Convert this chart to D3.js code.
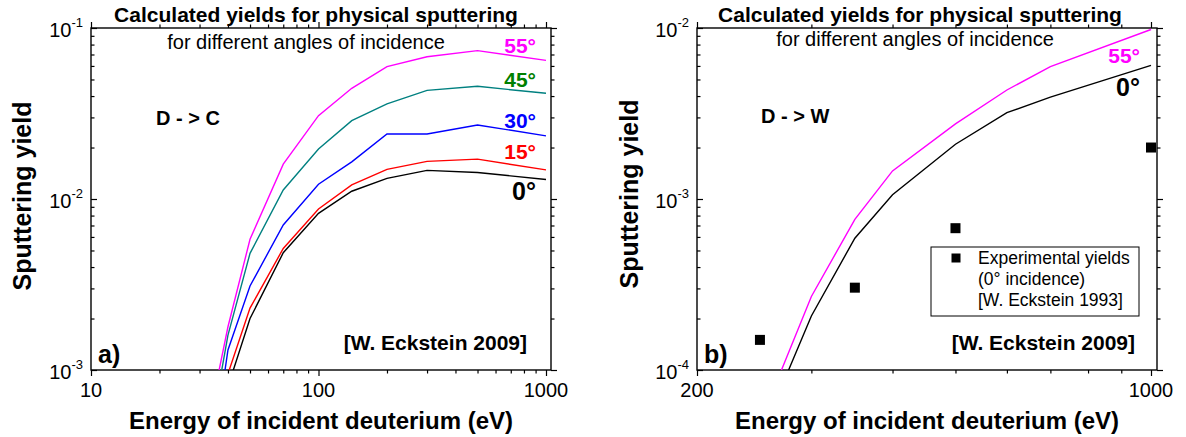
<!DOCTYPE html>
<html><head><meta charset="utf-8">
<script src="https://cdn.jsdelivr.net/npm/d3@7"></script>
<style>
body{margin:0;background:#fff}
svg{display:block;font-family:"Liberation Sans",Arial,Helvetica,sans-serif}
</style></head><body>
<svg id="chart" width="1186" height="437"></svg>
<script>
// ---- D -> C : calculated yields, one series per angle of incidence ----
const energiesC = [35, 40, 50, 70, 100, 140, 200, 300, 500, 1000];
const yieldC0  = [0.00020, 0.00080, 0.00200, 0.00485, 0.00824, 0.0111, 0.0132, 0.0147, 0.0143, 0.0130];
const yieldC15 = [0.00030, 0.00095, 0.00230, 0.00514, 0.00875, 0.0121, 0.0149, 0.0166, 0.0171, 0.0148];
const yieldC30 = [0.00039, 0.00131, 0.00310, 0.00705, 0.0122, 0.0165, 0.0240, 0.0240, 0.0271, 0.0234];
const yieldC45 = [0.00059, 0.00160, 0.00481, 0.0113, 0.0196, 0.0287, 0.0360, 0.0432, 0.0456, 0.0415];
const yieldC55 = [0.00075, 0.00179, 0.00581, 0.0160, 0.0307, 0.0444, 0.0594, 0.0679, 0.0737, 0.0647];
const anglesC  = ["0°", "15°", "30°", "45°", "55°"];

// ---- D -> W : calculated yields (0° and 55°) and measured yields at 0° ----
const energiesW = [250, 300, 350, 400, 500, 600, 700, 1000];
const yieldW0  = [0.000040, 0.000207, 0.00059, 0.00106, 0.00209, 0.00320, 0.00394, 0.00605];
const yieldW55 = [0.000049, 0.000269, 0.00076, 0.00146, 0.00275, 0.00434, 0.00594, 0.00980];
const anglesW  = ["0°", "55°"];
const expEnergiesW = [250, 350, 500, 1000];
const expYieldsW   = [0.000150, 0.000303, 0.000675, 0.00200];

// ---- axis ticks ----
const xMajorC = [10, 100, 1000];
const yMajorC = [1e-3, 1e-2, 1e-1];
const xMajorW = [200, 1000];
const yMajorW = [1e-4, 1e-3, 1e-2];

const svg = d3.select("#chart");
const FONT_BOLD = 700;

function minorLogTicks(lo, hi, majors) {
  const out = [];
  for (let p = Math.floor(Math.log10(lo)); p <= Math.ceil(Math.log10(hi)); p++) {
    for (let m = 1; m <= 9; m++) {
      const v = m * Math.pow(10, p);
      if (v >= lo * 0.9999 && v <= hi * 1.0001 && !majors.some(t => Math.abs(t - v) / v < 1e-6)) out.push(v);
    }
  }
  return out;
}

function panel(cfg) {
  const g = svg.append("g");
  const x = d3.scaleLog().domain(cfg.xDomain).range([cfg.left, cfg.xEnd]);
  const y = d3.scaleLog().domain(cfg.yDomain).range([cfg.bottom, cfg.top]);
  const right = cfg.right;

  const clipId = "clip-" + cfg.id;
  svg.append("clipPath").attr("id", clipId).append("rect")
    .attr("x", cfg.left).attr("y", cfg.top)
    .attr("width", right - cfg.left).attr("height", cfg.bottom - cfg.top);

  const xMinor = minorLogTicks(cfg.xDomain[0], cfg.xDomain[1], cfg.xMajor);
  const yMinor = minorLogTicks(cfg.yDomain[0], cfg.yDomain[1], cfg.yMajor);

  const tickStyle = sel => {
    sel.select(".domain").remove();
    sel.selectAll("line").attr("stroke", "#000").attr("stroke-width", 1.2);
    sel.selectAll("text").remove();
  };
  // bottom & top axes
  g.append("g").attr("transform", `translate(0,${cfg.bottom})`)
    .call(d3.axisBottom(x).tickValues(cfg.xMajor).tickSize(6)).call(tickStyle);
  g.append("g").attr("transform", `translate(0,${cfg.bottom})`)
    .call(d3.axisBottom(x).tickValues(xMinor).tickSize(3.5)).call(tickStyle);
  g.append("g").attr("transform", `translate(0,${cfg.top})`)
    .call(d3.axisTop(x).tickValues(cfg.xMajor).tickSize(6)).call(tickStyle);
  g.append("g").attr("transform", `translate(0,${cfg.top})`)
    .call(d3.axisTop(x).tickValues(xMinor).tickSize(3.5)).call(tickStyle);
  // left (inward) & right axes
  g.append("g").attr("transform", `translate(${cfg.left},0)`)
    .call(d3.axisLeft(y).tickValues(cfg.yMajor).tickSize(-6)).call(tickStyle);
  g.append("g").attr("transform", `translate(${cfg.left},0)`)
    .call(d3.axisLeft(y).tickValues(yMinor).tickSize(-3.5)).call(tickStyle);
  g.append("g").attr("transform", `translate(${right},0)`)
    .call(d3.axisRight(y).tickValues(cfg.yMajor).tickSize(6)).call(tickStyle);
  g.append("g").attr("transform", `translate(${right},0)`)
    .call(d3.axisRight(y).tickValues(yMinor).tickSize(3.5)).call(tickStyle);

  // frame
  g.append("rect").attr("x", cfg.left).attr("y", cfg.top)
    .attr("width", right - cfg.left).attr("height", cfg.bottom - cfg.top)
    .attr("fill", "none").attr("stroke", "#000").attr("stroke-width", 1.4);

  // x tick labels
  g.selectAll(".xl").data(cfg.xMajor).enter().append("text")
    .attr("x", d => x(d)).attr("y", cfg.bottom + 27)
    .attr("text-anchor", "middle").attr("font-size", 20).text(d => d);

  // y tick labels 10^n
  const yl = g.selectAll(".yl").data(cfg.yMajor).enter().append("text")
    .attr("x", cfg.left - 8).attr("y", d => y(d) + 9)
    .attr("text-anchor", "end").attr("font-size", 20);
  yl.append("tspan").text("10");
  yl.append("tspan").attr("dy", -10).attr("font-size", 13)
    .text(d => String(Math.round(Math.log10(d))).replace("-", "-"));

  // axis titles
  g.append("text").attr("x", (cfg.left + right) / 2).attr("y", 429)
    .attr("text-anchor", "middle").attr("font-size", 24).attr("font-weight", FONT_BOLD)
    .text("Energy of incident deuterium (eV)");
  g.append("text").attr("transform", `translate(${cfg.yTitleX},${cfg.yTitleY}) rotate(-90)`)
    .attr("text-anchor", "middle").attr("font-size", 25).attr("font-weight", FONT_BOLD)
    .text("Sputtering yield");

  // titles
  g.append("text").attr("x", cfg.titleX).attr("y", 21.5)
    .attr("text-anchor", "middle").attr("font-size", 21).attr("font-weight", FONT_BOLD)
    .text("Calculated yields for physical sputtering");
  g.append("text").attr("x", cfg.subX).attr("y", cfg.subY)
    .attr("text-anchor", "middle").attr("font-size", 20)
    .text("for different angles of incidence");

  // curves
  const line = d3.line().x(d => x(d[0])).y(d => y(d[1]));
  const curves = g.append("g").attr("clip-path", `url(#${clipId})`);
  cfg.series.forEach(s => {
    curves.append("path").datum(cfg.energies.map((e, i) => [e, s.values[i]]))
      .attr("d", line).attr("fill", "none").attr("stroke", s.color).attr("stroke-width", 1.4);
  });
  // curve labels
  cfg.series.forEach(s => {
    g.append("text").attr("x", cfg.labelX).attr("y", s.labelY)
      .attr("text-anchor", "end").attr("font-size", s.labelSize).attr("font-weight", FONT_BOLD)
      .attr("fill", s.labelColor).text(s.name);
  });

  // annotations
  g.append("text").attr("x", cfg.reactionX).attr("y", cfg.reactionY)
    .attr("font-size", 20).attr("font-weight", FONT_BOLD).text(cfg.reaction);
  g.append("text").attr("x", cfg.refX).attr("y", 350)
    .attr("text-anchor", "end").attr("font-size", 21).attr("font-weight", FONT_BOLD)
    .text("[W. Eckstein 2009]");
  g.append("text").attr("x", cfg.left + 7).attr("y", 363)
    .attr("font-size", 25).attr("font-weight", FONT_BOLD).text(cfg.tag);

  return { g, x, y };
}

// ---- panel a) ----
const colorsC = ["#000000", "#ff0000", "#0000ff", "#008080", "#ff00ff"];
const labelColorsC = ["#000000", "#ff0000", "#0000ff", "#008000", "#ff00ff"];
const valuesC = [yieldC0, yieldC15, yieldC30, yieldC45, yieldC55];
const labelYC = [200, 159, 128, 87, 53];
panel({
  id: "a", left: 91, xEnd: 546, right: 551, top: 28, bottom: 370,
  xDomain: [10, 1000], yDomain: [1e-3, 1e-1], xMajor: xMajorC, yMajor: yMajorC,
  yTitleX: 31, yTitleY: 196, titleX: 316, subX: 306, subY: 49,
  energies: energiesC,
  series: anglesC.map((a, i) => ({
    name: a, values: valuesC[i], color: colorsC[i], labelColor: labelColorsC[i],
    labelY: labelYC[i], labelSize: i === 0 ? 25 : 21
  })),
  labelX: 536, reaction: "D - > C", reactionX: 156, reactionY: 124.5,
  refX: 527, tag: "a)"
});

// ---- panel b) ----
const valuesW = [yieldW0, yieldW55];
const colorsW = ["#000000", "#ff00ff"];
const labelYW = [96, 63];
const pb = panel({
  id: "b", left: 697, xEnd: 1151, right: 1157, top: 28, bottom: 370,
  xDomain: [200, 1000], yDomain: [1e-4, 1e-2], xMajor: xMajorW, yMajor: yMajorW,
  yTitleX: 638, yTitleY: 194, titleX: 920, subX: 915, subY: 46,
  energies: energiesW,
  series: anglesW.map((a, i) => ({
    name: a, values: valuesW[i], color: colorsW[i], labelColor: colorsW[i],
    labelY: labelYW[i], labelSize: i === 0 ? 25 : 21
  })),
  labelX: 1140, reaction: "D - > W", reactionX: 761, reactionY: 123,
  refX: 1135, tag: "b)"
});

// measured yields (squares)
const sq = 10;
pb.g.selectAll(".exp").data(expEnergiesW.map((e, i) => [e, expYieldsW[i]])).enter()
  .append("rect")
  .attr("x", d => pb.x(d[0]) - sq / 2).attr("y", d => pb.y(d[1]) - sq / 2)
  .attr("width", sq).attr("height", sq).attr("fill", "#000");

// legend
const lg = pb.g.append("g");
lg.append("rect").attr("x", 931).attr("y", 247).attr("width", 208).attr("height", 69)
  .attr("fill", "#fff").attr("stroke", "#000").attr("stroke-width", 1);
lg.append("rect").attr("x", 956 - 4.5).attr("y", 258 - 4.5).attr("width", 9).attr("height", 9).attr("fill", "#000");
["Experimental yields", "(0° incidence)", "[W. Eckstein 1993]"].forEach((t, i) => {
  lg.append("text").attr("x", 978).attr("y", 264 + i * 21)
    .attr("font-size", 17.5).text(t);
});
</script>
</body></html>
